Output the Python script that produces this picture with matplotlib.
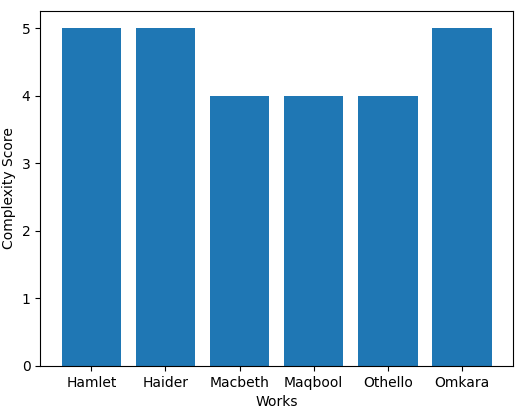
import matplotlib
matplotlib.use("Agg")
import matplotlib.pyplot as plt

works = ["Hamlet", "Haider", "Macbeth", "Maqbool", "Othello", "Omkara"]
scores = [5, 5, 4, 4, 4, 5]

fig, ax = plt.subplots(figsize=(5.22, 4.12), dpi=100)
ax.bar(works, scores, color="#1f77b4")
ax.set_xlabel("Works")
ax.set_ylabel("Complexity Score")
fig.subplots_adjust(left=0.077, right=0.983, top=0.973, bottom=0.112)
fig.savefig("out.png", dpi=100)
